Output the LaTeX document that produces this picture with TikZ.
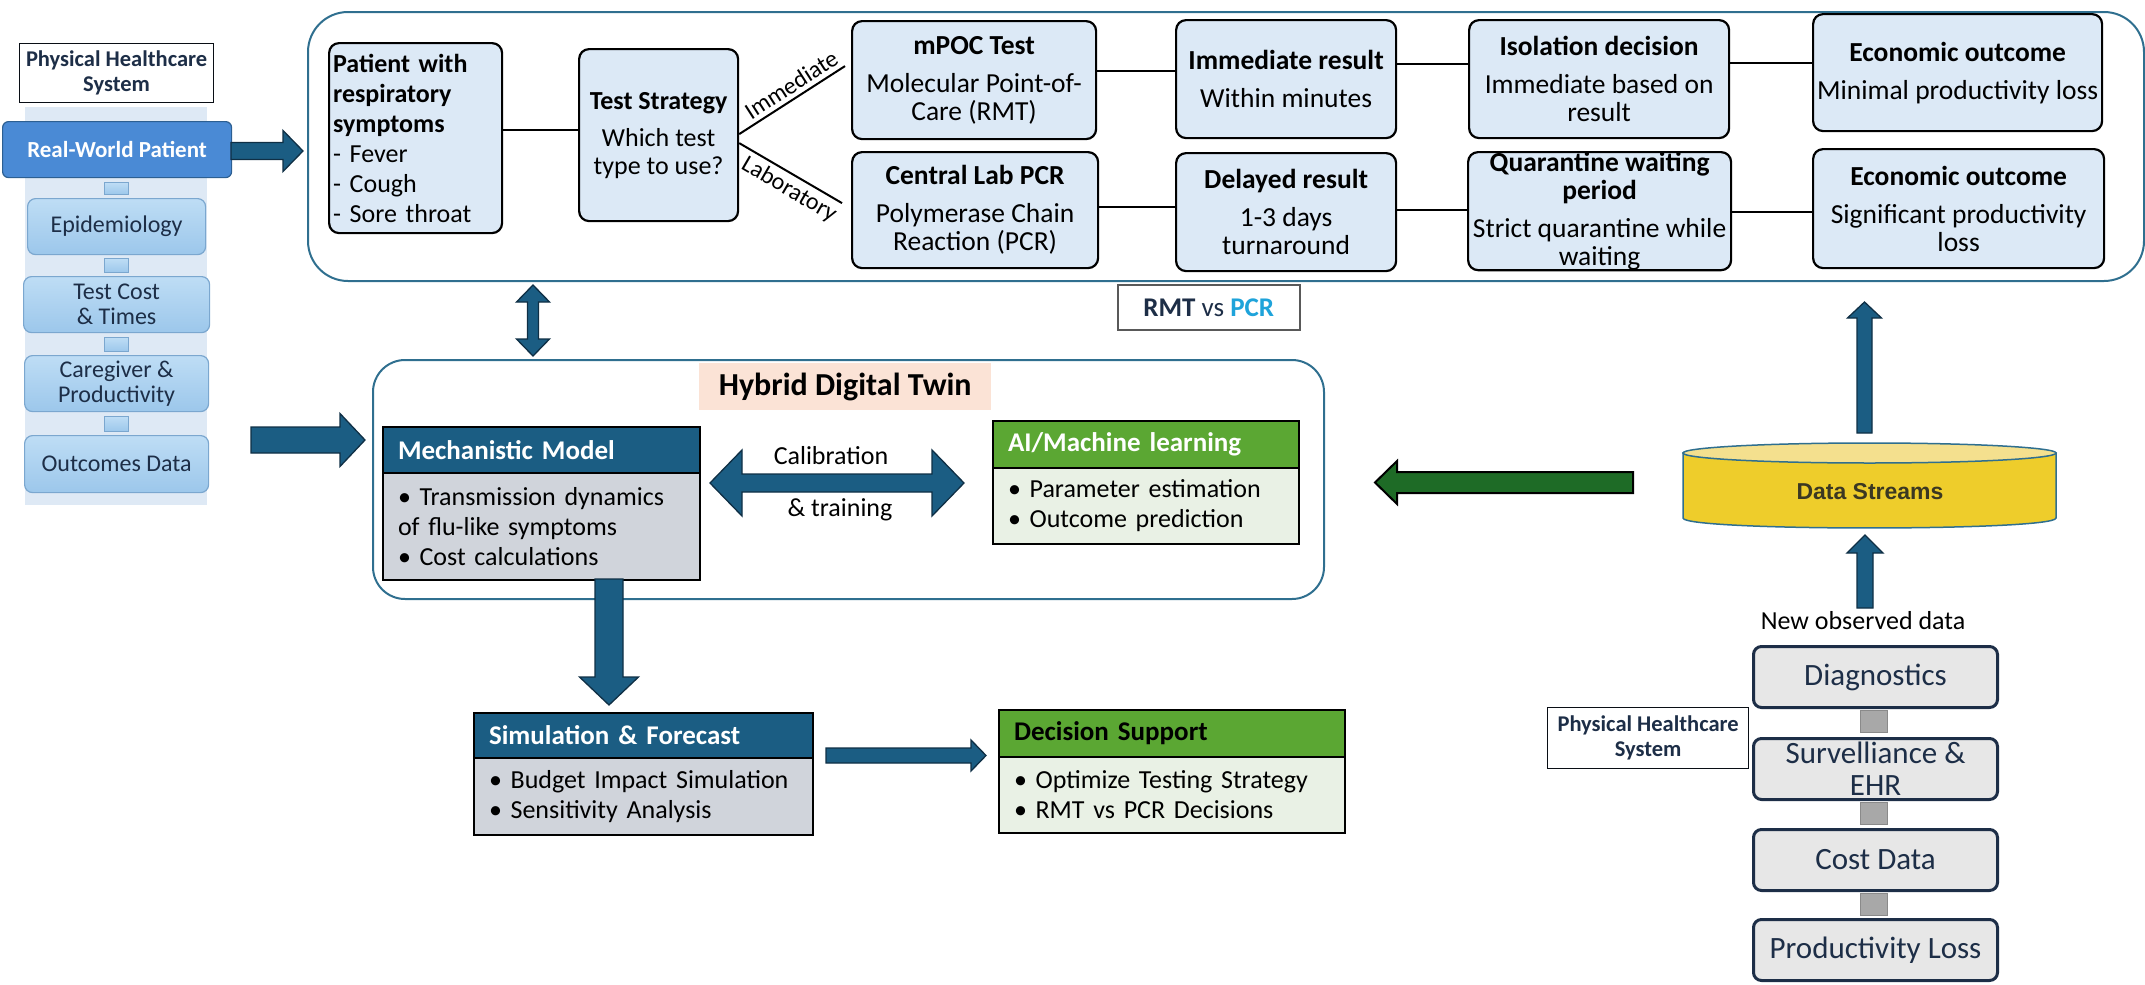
\documentclass[tikz,border=0pt]{standalone}
\usepackage{fontspec}
\setmainfont{Carlito}
\newfontfamily\arialf{Liberation Sans}
\usetikzlibrary{calc}
\definecolor{cTeal}{HTML}{1B5D83}
\definecolor{cDk}{HTML}{0F2F45}
\definecolor{cBorder}{HTML}{2F6F8F}
\definecolor{cTop}{HTML}{DCE9F6}
\definecolor{cGrayBody}{HTML}{D0D4DB}
\definecolor{cGreenH}{HTML}{5BA733}
\definecolor{cGreenB}{HTML}{E9F1E5}
\definecolor{cGreenA}{HTML}{1E6B26}
\definecolor{cYel}{HTML}{EECD2B}
\definecolor{cYelTop}{HTML}{F4E08E}
\definecolor{cRBox}{HTML}{E7E7E7}
\definecolor{cNavy}{HTML}{1D2E47}
\definecolor{cLTop}{HTML}{BEDDF5}
\definecolor{cLBot}{HTML}{9CC7EB}
\definecolor{cLBorder}{HTML}{7BA7CF}
\definecolor{cLBg}{HTML}{DEE9F5}
\definecolor{cRWP}{HTML}{4A8AD5}
\definecolor{cRWPb}{HTML}{2C5F92}
\definecolor{cPeach}{HTML}{FBE3D6}
\definecolor{cPCR}{HTML}{1EA3DA}
\definecolor{cDS}{HTML}{3B3822}
\newcommand\hArrow[7]{% style, x1, xb, x2, yc, sh, hh
 \draw[#1] ({#2},{#5-#6}) -- ({#3},{#5-#6}) -- ({#3},{#5-#7}) -- ({#4},{#5}) -- ({#3},{#5+#7}) -- ({#3},{#5+#6}) -- ({#2},{#5+#6}) -- cycle;}
\newcommand\vArrow[7]{% style, y1, yb, y2, xc, sh, hh
 \draw[#1] ({#5-#6},{#2}) -- ({#5-#6},{#3}) -- ({#5-#7},{#3}) -- ({#5},{#4}) -- ({#5+#7},{#3}) -- ({#5+#6},{#3}) -- ({#5+#6},{#2}) -- cycle;}
\newcommand\vDArrow[7]{% style, y1, y2, xc, sh, hh, hl
 \draw[#1] ({#4},{#2}) -- ({#4+#6},{#2+#7}) -- ({#4+#5},{#2+#7}) -- ({#4+#5},{#3-#7}) -- ({#4+#6},{#3-#7}) -- ({#4},{#3}) -- ({#4-#6},{#3-#7}) -- ({#4-#5},{#3-#7}) -- ({#4-#5},{#2+#7}) -- ({#4-#6},{#2+#7}) -- cycle;}
\newcommand\hDArrow[7]{% style, x1, x2, yc, sh, hh, hl
 \draw[#1] ({#2},{#4}) -- ({#2+#7},{#4-#6}) -- ({#2+#7},{#4-#5}) -- ({#3-#7},{#4-#5}) -- ({#3-#7},{#4-#6}) -- ({#3},{#4}) -- ({#3-#7},{#4+#6}) -- ({#3-#7},{#4+#5}) -- ({#2+#7},{#4+#5}) -- ({#2+#7},{#4+#6}) -- cycle;}
\tikzset{
 nw/.style={anchor=north west, inner sep=0pt},
 topbox/.style={nw, draw=black, line width=2.2pt, fill=cTop, rounded corners=10pt, align=center, font=\fontsize{27.5}{28}\selectfont},
 conn/.style={draw=black, line width=2pt},
 brlab/.style={sloped, inner sep=4pt, pos=0.56, font=\fontsize{24}{25}\selectfont},
 lbox/.style={nw, draw=cLBorder, line width=1.2pt, top color=cLTop, bottom color=cLBot, rounded corners=8pt, align=center, text=cNavy, font=\fontsize{24}{25}\selectfont},
 lconn/.style={nw, draw=cLBorder, line width=1pt, top color=cLTop, bottom color=cLBot, minimum width=24pt},
 hdr/.style={nw, draw=black, line width=2pt, text=white, align=left, inner xsep=15pt, font=\bfseries\fontsize{27}{28}\selectfont},
 bdy/.style={nw, draw=black, line width=2pt, align=left, inner xsep=15pt, font=\fontsize{26}{30}\selectfont},
 blk/.style={fill=cTeal, draw=cDk, line width=1.3pt, line join=miter},
 grn/.style={fill=cGreenA, draw=black, line width=2pt, line join=miter},
 rbox/.style={nw, draw=cNavy, line width=3pt, fill=cRBox, rounded corners=8pt, align=center, text=cNavy, font=\fontsize{31}{32}\selectfont, minimum width=244pt, minimum height=61pt},
 gsq/.style={nw, fill=black!34, draw=black!46, line width=1pt, minimum width=27pt, minimum height=22pt},
 phs/.style={nw, draw=black!70!cNavy, line width=1.2pt, fill=white, align=center, text=cNavy, font=\bfseries\fontsize{22.5}{25}\selectfont}
}
\begin{document}
\begin{tikzpicture}[x=1pt,y=-1pt]
\useasboundingbox (0,0) rectangle (2145,985);

% ---------- containers ----------
\node[nw, draw=cBorder, line width=2pt, rounded corners=40pt, minimum width=1836pt, minimum height=269pt] (topc) at (307,11) {};
\node[nw, draw=cBorder, line width=2pt, rounded corners=32pt, minimum width=951pt, minimum height=239pt] (hdt) at (372,359) {};

% ---------- left panel ----------
\node[nw, fill=cLBg, minimum width=182pt, minimum height=398pt] (lbg) at (25,107) {};
\node[phs, minimum width=194pt, minimum height=59pt] (phs1) at (19,43) {Physical Healthcare\\System};
\node[nw, draw=cRWPb, line width=1.2pt, fill=cRWP, rounded corners=6pt, minimum width=229pt, minimum height=56pt, text=white, font=\bfseries\fontsize{23}{25}\selectfont] (rwp) at (2,121) {Real-World Patient};
\node[lconn, minimum height=12pt] (lc1) at (104,182) {};
\node[lbox, minimum width=178pt, minimum height=56pt] (epi) at (27,198) {Epidemiology};
\node[lconn, minimum height=14pt] (lc2) at (104,258) {};
\node[lbox, minimum width=186pt, minimum height=56pt] (tct) at (23,276) {Test Cost\\\& Times};
\node[lconn, minimum height=14pt] (lc3) at (104,337) {};
\node[lbox, minimum width=184pt, minimum height=56pt] (cgp) at (24,355) {Caregiver \&\\Productivity};
\node[lconn, minimum height=15pt] (lc4) at (104,416) {};
\node[lbox, minimum width=184pt, minimum height=57pt] (ocd) at (24,435) {Outcomes Data};

% ---------- top row ----------
\node[topbox, align=left, text width=165pt, inner xsep=4pt, minimum height=190pt, font=\fontsize{26}{30}\selectfont] (pat) at (328,42)
 {\textbf{Patient with}\\\textbf{respiratory}\\\textbf{symptoms}\\- Fever\\- Cough\\- Sore throat};
\node[topbox, minimum width=159pt, minimum height=172pt, font=\fontsize{26}{28}\selectfont] (ts) at (578,48) {\textbf{Test Strategy}\\[9pt]Which test\\type to use?};
\node[topbox, minimum width=244pt, minimum height=118pt] (mpoc) at (851,20) {\textbf{mPOC Test}\\[10pt]Molecular Point-of-\\Care (RMT)};
\node[topbox, minimum width=246pt, minimum height=116pt] (pcr) at (851,151) {\textbf{Central Lab PCR}\\[10pt]Polymerase Chain\\Reaction (PCR)};
\node[topbox, minimum width=220pt, minimum height=118pt] (imm) at (1175,19) {\textbf{Immediate result}\\[10pt]Within minutes};
\node[topbox, minimum width=220pt, minimum height=118pt] (del) at (1175,152) {\textbf{Delayed result}\\[10pt]1-3 days\\turnaround};
\node[topbox, minimum width=260pt, minimum height=118pt] (iso) at (1468,19) {\textbf{Isolation decision}\\[10pt]Immediate based on\\result};
\node[topbox, minimum width=263pt, minimum height=118pt] (qua) at (1467,151) {\textbf{Quarantine waiting}\\\textbf{period}\\[10pt]Strict quarantine while\\waiting};
\node[topbox, minimum width=289pt, minimum height=117pt] (eco1) at (1812,13) {\textbf{Economic outcome}\\[10pt]Minimal productivity loss};
\node[topbox, minimum width=291pt, minimum height=119pt] (eco2) at (1812,148) {\textbf{Economic outcome}\\[10pt]Significant productivity\\loss};

\draw[conn] (pat.east |- 0,130) -- (ts.west |- 0,130);
\draw[conn] ([yshift=1pt]ts.east) -- node[brlab, above] {Immediate} ([xshift=-6pt,yshift=14pt]mpoc.west);
\draw[conn] ([yshift=-8pt]ts.east) -- node[brlab, below] {Laboratory} ([xshift=-9pt,yshift=7pt]pcr.west);
\draw[conn] (mpoc.east |- 0,71) -- (imm.west |- 0,71);
\draw[conn] (imm.east |- 0,64) -- (iso.west |- 0,64);
\draw[conn] (iso.east |- 0,63) -- (eco1.west |- 0,63);
\draw[conn] (pcr.east |- 0,207) -- (del.west |- 0,207);
\draw[conn] (del.east |- 0,210) -- (qua.west |- 0,210);
\draw[conn] (qua.east |- 0,212) -- (eco2.west |- 0,212);

\node[nw, draw=black!65, line width=1.5pt, fill=white, minimum width=182pt, minimum height=45pt, font=\fontsize{27}{28}\selectfont] (rvp) at (1117,284)
 {\textbf{\color{cNavy}RMT} {\color{cNavy}vs} \textbf{\color{cPCR}PCR}};

% ---------- hybrid digital twin ----------
\node[nw, fill=cPeach, minimum width=292pt, minimum height=47pt, font=\bfseries\fontsize{32}{34}\selectfont] (hlab) at (699,363) {Hybrid Digital Twin};
\node[hdr, fill=cTeal, text width=287pt, minimum height=46pt] (mmh) at (382,426) {Mechanistic Model};
\node[bdy, fill=cGrayBody, text width=287pt, minimum height=107pt] (mmb) at (382,472) {• Transmission dynamics\\of flu-like symptoms\\• Cost calculations};
\node[hdr, fill=cGreenH, text width=276pt, minimum height=47pt] (aih) at (992,420) {AI/Machine learning};
\node[bdy, fill=cGreenB, text width=276pt, minimum height=76pt] (aib) at (992,467) {• Parameter estimation\\• Outcome prediction};
\node[font=\fontsize{26}{28}\selectfont] (cal) at (831,456) {Calibration};
\node[font=\fontsize{26}{28}\selectfont] (trn) at (840,510) {\& training};

% ---------- simulation / decision ----------
\node[hdr, fill=cTeal, text width=309pt, minimum height=45pt] (simh) at (473,712) {Simulation \& Forecast};
\node[bdy, fill=cGrayBody, text width=309pt, minimum height=77pt] (simb) at (473,757) {• Budget Impact Simulation\\• Sensitivity Analysis};
\node[hdr, fill=cGreenH, text=black, text width=316pt, minimum height=47pt] (dsh) at (998,709) {Decision Support};
\node[bdy, fill=cGreenB, text width=316pt, minimum height=76pt] (dsb) at (998,756) {• Optimize Testing Strategy\\• RMT vs PCR Decisions};

% ---------- data streams cylinder ----------
\path[fill=cYel, draw=cBorder, line width=1.5pt] (1683,453) -- (1683,518) .. controls (1683,531.3) and (2056,531.3) .. (2056,518) -- (2056,453) -- cycle;
\draw[fill=cYelTop, draw=cBorder, line width=1.5pt] (1869.5,453) ellipse [x radius=186.5, y radius=10];
\node[font=\arialf\bfseries\fontsize{23}{25}\selectfont, text=cDS] (dstr) at (1870,492) {Data Streams};
\node[font=\fontsize{26}{28}\selectfont] (nod) at (1863,621) {New observed data};

% ---------- right panel ----------
\node[rbox] (diag) at (1752,645) {Diagnostics};
\node[gsq] (g1) at (1860,710) {};
\node[rbox] (surv) at (1752,737) {Survelliance \&\\EHR};
\node[gsq] (g2) at (1860,802) {};
\node[rbox] (cost) at (1752,828) {Cost Data};
\node[gsq] (g3) at (1860,893) {};
\node[rbox] (prod) at (1752,918) {Productivity Loss};
\node[phs, minimum width=201pt, minimum height=61pt] (phs2) at (1547,707) {Physical Healthcare\\System};

% ---------- block arrows ----------
\hArrow{blk}{231}{283}{303}{151}{8.5}{20.5}
\hArrow{blk}{251}{340}{365}{440}{13}{26.5}
\vDArrow{blk}{285}{356}{533}{5.5}{16.5}{17}
\hDArrow{blk}{710}{964}{483}{9}{33}{32}
\vArrow{blk}{579}{677}{705}{609}{14}{29.5}
\hArrow{blk}{826}{971}{986}{755.5}{7.5}{15.5}
\hArrow{grn}{1633}{1397}{1375}{482.5}{10.5}{21.5}
\vArrow{blk}{433}{318}{302}{1864.5}{7.5}{17}
\vArrow{blk}{608}{553}{535}{1865}{8}{18}
\end{tikzpicture}
\end{document}
